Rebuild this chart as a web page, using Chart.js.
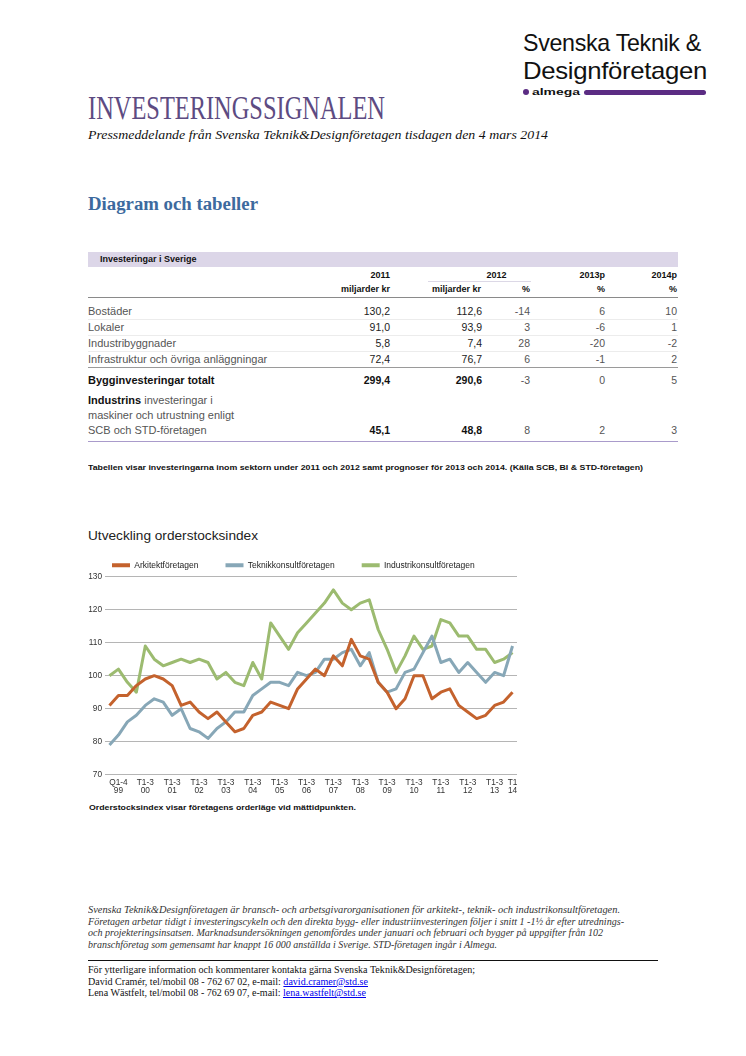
<!DOCTYPE html>
<html>
<head>
<meta charset="utf-8">
<script src="https://cdn.jsdelivr.net/npm/chart.js@4.4.1/dist/chart.umd.min.js"></script>
<style>
  html, body { margin: 0; padding: 0; background: #fff; }
  body { width: 746px; height: 1056px; position: relative; overflow: hidden; }
  .t { position: absolute; white-space: nowrap; }
  .sans { font-family: "Liberation Sans", Arial, sans-serif; }
  .serif { font-family: "Liberation Serif", "Times New Roman", serif; }
  .fit { display: inline-block; transform-origin: 0 50%; }
  .hr { position: absolute; }
  a { color: #0000EE; text-decoration: underline; }
</style>
</head>
<body>
<!-- Logo -->
<div class="t sans" style="left:523px;top:31.2px;font-size:24px;line-height:24px;height:24px;color:#111;letter-spacing:-0.3px;"><span class="fit" data-w="178">Svenska Teknik &amp;</span></div>
<div class="t sans" style="left:523px;top:58.6px;font-size:24px;line-height:24px;height:24px;color:#111;letter-spacing:-0.3px;"><span class="fit" data-w="184">Designföretagen</span></div>
<div class="hr" style="left:523px;top:89px;width:6px;height:6px;border-radius:3px;background:#5B2C83;"></div>
<div class="t sans" style="left:532px;top:87.5px;font-size:9px;line-height:9px;font-weight:bold;color:#111;"><span class="fit" data-w="48">almega</span></div>
<div class="hr" style="left:584px;top:89.5px;width:122px;height:5px;border-radius:2.5px;background:#5B2C83;"></div>

<!-- Headline -->
<div class="t serif" style="left:88px;top:91.8px;font-size:33px;line-height:33px;color:#5D4B82;"><span class="fit" data-w="297">INVESTERINGSSIGNALEN</span></div>
<div class="t serif" style="left:88px;top:127.9px;font-size:13px;line-height:13px;font-style:italic;color:#111;"><span class="fit" data-w="460">Pressmeddelande från Svenska Teknik&amp;Designföretagen tisdagen den 4 mars 2014</span></div>
<div class="t serif" style="left:88px;top:195.4px;font-size:18px;line-height:18px;font-weight:bold;color:#3D6A9E;"><span class="fit" data-w="170">Diagram och tabeller</span></div>

<!-- Table -->
<div id="table"></div>

<div class="t sans" style="left:88px;top:464.2px;font-size:7.8px;line-height:7.8px;font-weight:bold;color:#111;"><span class="fit" data-w="555">Tabellen visar investeringarna inom sektorn under 2011 och 2012 samt prognoser för 2013 och 2014. (Källa SCB, BI &amp; STD-företagen)</span></div>

<!-- Chart -->
<div class="t sans" style="left:88px;top:529.4px;font-size:13.5px;line-height:13.5px;color:#222;"><span class="fit" data-w="170">Utveckling orderstocksindex</span></div>
<div style="position:absolute;left:85px;top:534px;width:440px;height:266px;">
  <canvas id="c" width="440" height="266"></canvas>
</div>
<div class="t sans" style="left:89px;top:804.1px;font-size:8px;line-height:8px;font-weight:bold;color:#111;"><span class="fit" data-w="267">Orderstocksindex visar företagens orderläge vid mättidpunkten.</span></div>

<!-- Footer -->
<div class="t serif" style="left:88px;top:905.3px;font-size:9.6px;line-height:9.6px;font-style:italic;color:#333;"><span class="fit" data-w="532">Svenska Teknik&amp;Designföretagen är bransch- och arbetsgivarorganisationen för arkitekt-, teknik- och industrikonsultföretagen.</span></div>
<div class="t serif" style="left:88px;top:916.8px;font-size:9.6px;line-height:9.6px;font-style:italic;color:#333;"><span class="fit" data-w="536">Företagen arbetar tidigt i investeringscykeln och den direkta bygg- eller industriinvesteringen följer i snitt 1 -1½ år efter utrednings-</span></div>
<div class="t serif" style="left:88px;top:928.3px;font-size:9.6px;line-height:9.6px;font-style:italic;color:#333;"><span class="fit" data-w="515">och projekteringsinsatsen. Marknadsundersökningen genomfördes under januari och februari och bygger på uppgifter från 102</span></div>
<div class="t serif" style="left:88px;top:939.8px;font-size:9.6px;line-height:9.6px;font-style:italic;color:#333;"><span class="fit" data-w="409">branschföretag som gemensamt har knappt 16 000 anställda i Sverige. STD-företagen ingår i Almega.</span></div>
<div class="hr" style="left:88px;top:959.5px;width:570px;height:1px;background:#111;"></div>
<div class="t serif" style="left:88px;top:965.3px;font-size:9.6px;line-height:9.6px;color:#111;"><span class="fit" data-w="387">För ytterligare information och kommentarer kontakta gärna Svenska Teknik&amp;Designföretagen;</span></div>
<div class="t serif" style="left:88px;top:976.8px;font-size:9.6px;line-height:9.6px;color:#111;"><span class="fit" data-w="280">David Cramér, tel/mobil 08 - 762 67 02, e-mail: <a>david.cramer@std.se</a></span></div>
<div class="t serif" style="left:88px;top:988.3px;font-size:9.6px;line-height:9.6px;color:#111;"><span class="fit" data-w="278">Lena Wästfelt, tel/mobil 08 - 762 69 07, e-mail: <a>lena.wastfelt@std.se</a></span></div>

<script>
// ---------------- Chart data ----------------
const categories = ['1999 T1','1999 T2','1999 T3','2000 T1','2000 T2','2000 T3','2001 T1','2001 T2','2001 T3',
  '2002 T1','2002 T2','2002 T3','2003 T1','2003 T2','2003 T3','2004 T1','2004 T2','2004 T3',
  '2005 T1','2005 T2','2005 T3','2006 T1','2006 T2','2006 T3','2007 T1','2007 T2','2007 T3',
  '2008 T1','2008 T2','2008 T3','2009 T1','2009 T2','2009 T3','2010 T1','2010 T2','2010 T3',
  '2011 T1','2011 T2','2011 T3','2012 T1','2012 T2','2012 T3','2013 T1','2013 T2','2013 T3','2014 T1'];

const tickLabels = ['', ['Q1-4','99'], '', '', ['T1-3','00'], '', '', ['T1-3','01'], '', '', ['T1-3','02'], '', '',
  ['T1-3','03'], '', '', ['T1-3','04'], '', '', ['T1-3','05'], '', '', ['T1-3','06'], '', '', ['T1-3','07'], '', '',
  ['T1-3','08'], '', '', ['T1-3','09'], '', '', ['T1-3','10'], '', '', ['T1-3','11'], '', '', ['T1-3','12'], '', '',
  ['T1-3','13'], '', ['T1','14']];

const seriesNames = ['Arkitektföretagen', 'Teknikkonsultföretagen', 'Industrikonsultföretagen'];

const arkitekt = [91,94,94,97,99,100,99,97,91,92,89,87,89,86,83,84,88,89,92,91,90,96,99,102,100,106,103,111,106,105,98,95,90,93,100,100,93,95,96,91,89,87,88,91,92,95];
const teknik   = [79,82,86,88,91,93,92,88,90,84,83,81,84,86,89,89,94,96,98,98,97,101,100,101,105,105,107,108,103,107,98,95,96,101,102,107,112,104,105,101,104,101,98,101,100,109];
const industri = [100,102,98,95,109,105,103,104,105,104,105,104,99,101,98,97,104,99,116,112,108,113,116,119,122,126,122,120,122,123,114,108,101,106,112,108,109,117,116,112,112,108,108,104,105,107];

const yTicks = { min: 70, max: 130, step: 10 };

// ---------------- Table data ----------------
const tableHead = 'Investeringar i Sverige';
const tableRows = [
  { label: 'Bostäder', v: ['130,2','112,6','-14','6','10'] },
  { label: 'Lokaler', v: ['91,0','93,9','3','-6','1'] },
  { label: 'Industribyggnader', v: ['5,8','7,4','28','-20','-2'] },
  { label: 'Infrastruktur och övriga anläggningar', v: ['72,4','76,7','6','-1','2'] }
];
const totalRow = { label: 'Bygginvesteringar totalt', v: ['299,4','290,6','-3','0','5'] };
const industryRow = { lines: ['<b>Industrins</b> investeringar i', 'maskiner och utrustning enligt', 'SCB och STD-företagen'], v: ['45,1','48,8','8','2','3'] };

// ---------------- Build table ----------------
const colRight = [390, 482, 530, 605, 677];
const T = document.getElementById('table');
function put(x, cy, html, fs, opts) {
  opts = opts || {};
  const d = document.createElement('div');
  d.className = 't sans';
  d.style.fontSize = fs + 'px';
  d.style.lineHeight = fs + 'px';
  d.style.top = (cy - 0.49 * fs) + 'px';
  d.style.color = opts.color || '#444';
  if (opts.bold) d.style.fontWeight = 'bold';
  if (opts.align === 'right') { d.style.right = (746 - x) + 'px'; d.style.textAlign = 'right'; }
  else if (opts.align === 'center') { d.style.left = (x - 100) + 'px'; d.style.width = '200px'; d.style.textAlign = 'center'; }
  else d.style.left = x + 'px';
  d.innerHTML = html;
  T.appendChild(d);
  return d;
}
function rule(x, y, w, h, c) {
  const d = document.createElement('div');
  d.className = 'hr';
  d.style.left = x + 'px'; d.style.top = y + 'px'; d.style.width = w + 'px'; d.style.height = h + 'px'; d.style.background = c;
  T.appendChild(d);
}
const hf = 9;
rule(88, 252, 590, 14.5, '#DCD6E8');
put(100, 259.3, tableHead, hf, { bold: true, color: '#111' });
put(390, 275, '2011', hf, { bold: true, color: '#111', align: 'right' });
put(496.5, 275, '2012', hf, { bold: true, color: '#111', align: 'center' });
put(605, 275, '2013p', hf, { bold: true, color: '#111', align: 'right' });
put(677, 275, '2014p', hf, { bold: true, color: '#111', align: 'right' });
rule(428, 281, 103, 1, '#DCD8E6');
put(390, 289, 'miljarder kr', hf, { bold: true, color: '#111', align: 'right' });
put(481, 289, 'miljarder kr', hf, { bold: true, color: '#111', align: 'right' });
put(530, 289, '%', hf, { bold: true, color: '#111', align: 'right' });
put(605, 289, '%', hf, { bold: true, color: '#111', align: 'right' });
put(677, 289, '%', hf, { bold: true, color: '#111', align: 'right' });
rule(88, 296.5, 590, 1.5, '#8A8A8A');

const lf = 11;
const rowCy = [311.5, 327.5, 343.5, 359.5];
tableRows.forEach((r, i) => {
  put(88, rowCy[i], r.label, lf, { color: '#555' });
  r.v.forEach((val, j) => put(colRight[j], rowCy[i], val, 10.5, { color: j < 2 ? '#222' : '#555', align: 'right' }));
  if (i < 3) rule(88, rowCy[i] + 7.5, 590, 1, '#ECECEC');
});
rule(88, 366.5, 590, 1.5, '#9A9A9A');
put(88, 380.5, totalRow.label, 11, { bold: true, color: '#111' });
totalRow.v.forEach((val, j) => put(colRight[j], 380.5, val, 10.5, { bold: j < 2, color: j < 2 ? '#111' : '#555', align: 'right' }));
const indCy = [400.5, 415.5, 430.5];
industryRow.lines.forEach((l, i) => put(88, indCy[i], l.replace('<b>', '<b style="color:#111">'), lf, { color: '#555' }));
industryRow.v.forEach((val, j) => put(colRight[j], 430.5, val, 10.5, { bold: j < 2, color: j < 2 ? '#111' : '#555', align: 'right' }));
rule(88, 440.5, 590, 1.2, '#A99BCB');

// ---------------- Fit text widths ----------------
document.querySelectorAll('.fit').forEach(el => {
  const w = el.getBoundingClientRect().width;
  const target = parseFloat(el.dataset.w);
  if (w > 0) el.style.transform = 'scaleX(' + (target / w) + ')';
});

// ---------------- Chart ----------------
const colors = ['#C4622D', '#87A7B7', '#9CBB70'];
const legendHeightPlugin = {
  id: 'legendHeight',
  beforeInit(chart) {
    if (!chart.legend) return;
    const fit = chart.legend.fit;
    chart.legend.fit = function () { fit.call(this); this.height = 42.7; };
  }
};
const fontFamily = '"Liberation Sans", Arial, sans-serif';
new Chart(document.getElementById('c'), {
  type: 'line',
  data: {
    labels: categories,
    datasets: [arkitekt, teknik, industri].map((d, i) => ({
      label: seriesNames[i],
      data: d,
      borderColor: colors[i],
      backgroundColor: colors[i],
      borderWidth: 3,
      pointRadius: 0,
      tension: 0,
      borderJoinStyle: 'round',
      borderCapStyle: 'butt',
      fill: false
    }))
  },
  options: {
    responsive: false,
    animation: false,
    devicePixelRatio: 1,
    layout: { padding: { left: 0, right: 8, top: 0, bottom: 0 } },
    plugins: {
      legend: {
        display: true,
        position: 'top',
        align: 'start',
        labels: {
          boxWidth: 18,
          boxHeight: 4,
          padding: 27,
          color: '#222',
          font: { family: fontFamily, size: 8.5 },
          generateLabels(chart) {
            const items = Chart.defaults.plugins.legend.labels.generateLabels(chart);
            items.forEach(it => { it.lineWidth = 0; it.fillStyle = it.strokeStyle; });
            return items;
          }
        }
      },
      tooltip: { enabled: false }
    },
    scales: {
      x: {
        type: 'category',
        offset: true,
        grid: { display: false, drawTicks: false },
        border: { display: false },
        afterFit(s) { s.height = 25.3; },
        ticks: {
          autoSkip: false,
          maxRotation: 0,
          minRotation: 0,
          padding: 4.5,
          color: '#333',
          font: { family: fontFamily, size: 8.3, lineHeight: 0.95 },
          callback: (v, i) => tickLabels[i]
        }
      },
      y: {
        min: yTicks.min,
        max: yTicks.max,
        afterFit(s) { s.width = 20; },
        grid: { color: '#B5B5B5', lineWidth: 1, drawTicks: false },
        border: { display: false },
        ticks: {
          stepSize: yTicks.step,
          padding: 3,
          color: '#333',
          font: { family: fontFamily, size: 8.3 }
        }
      }
    }
  },
  plugins: [legendHeightPlugin]
});
</script>
</body>
</html>
